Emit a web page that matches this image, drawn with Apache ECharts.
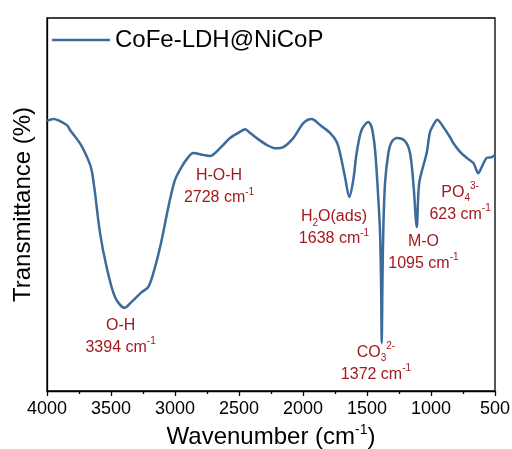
<!DOCTYPE html>
<html>
<head>
<meta charset="utf-8">
<script src="https://cdn.jsdelivr.net/npm/echarts@6/dist/echarts.min.js"></script>
<style>html,body{margin:0;padding:0;background:#fff;}#c{width:512px;height:449px;}</style>
</head>
<body>
<div id="c"></div>
<script>
// Wavenumber (cm-1) and transmittance (arbitrary %)
var wavenumbers = [4000,3950,3846,3820,3735,3677,3651,3625,3586,3534,3469,3394,3339,3260,3208,3156,3104,3052,3000,2948,2896,2857,2779,2728,2648,2570,2466,2453,2420,2362,2284,2219,2154,2076,1997,1932,1867,1789,1737,1711,1672,1638,1607,1581,1542,1490,1464,1437,1411,1398,1390,1385,1379,1372,1359,1333,1307,1268,1203,1164,1138,1111,1092,1034,1008,982,951,904,852,826,773,721,669,630,603,564,525,500];
var transmittance = [72.4,72.9,71.3,70.0,66.0,61.9,59.2,53.1,42.4,33.2,25.2,22.3,23.9,26.5,27.9,33.2,40.5,49.3,56.6,60.1,62.7,63.8,63.3,63.0,65.1,67.8,70.0,70.2,69.4,67.8,66.0,65.1,65.4,67.8,71.8,72.9,71.3,69.2,66.8,63.8,57.4,52.0,56.6,63.8,70.0,72.1,70.8,64.6,51.2,42.4,29.0,12.9,29.8,44.0,55.8,63.8,66.8,67.8,67.0,63.8,55.8,44.0,55.8,63.8,69.4,71.3,72.7,70.8,68.1,66.5,64.1,62.5,61.1,58.4,60.1,62.5,62.7,63.3];
var xTickValues = [4000,3500,3000,2500,2000,1500,1000,500];
var seriesName = 'CoFe-LDH@NiCoP';
// Peak annotations: label lines, wavenumber position and value position
var annoText = [
  '{a|O-H}\n{a|3394 cm}{sup|-1}',
  '{a|H-O-H}\n{a|2728 cm}{sup|-1}',
  '{a|H}{sub|2}{a|O(ads)}\n{a|1638 cm}{sup|-1}',
  '{a|CO}{sub|3}{sup|2-}\n{a|1372 cm}{sup|-1}',
  '{a|M-O}\n{a|1095 cm}{sup|-1}',
  '{a|PO}{sub|4}{sup|3-}\n{a|623 cm}{sup|-1}'
];
var annoX = [3425, 2656, 1758, 1430, 1059, 773];
var annoY = [14.6, 54.7, 43.7, 7.4, 37.1, 50.3];

var data = wavenumbers.map(function(w,i){return [w, transmittance[i]];});
var FONT = 'Arial, "Liberation Sans", sans-serif';
var RED = '#a3191e';
var BLUE = '#3b6b9b';
var richAnno = {
  a: {fontSize: 16, color: RED, fontFamily: FONT, lineHeight: 22},
  sup: {fontSize: 10, color: RED, fontFamily: FONT, verticalAlign: 'top', lineHeight: 22},
  sub: {fontSize: 10, color: RED, fontFamily: FONT, verticalAlign: 'bottom', lineHeight: 22}
};
var chart = echarts.init(document.getElementById('c'), null, {renderer: 'canvas'});
chart.setOption({
  animation: false,
  backgroundColor: '#fff',
  grid: {left: 47, right: 17, top: 18, bottom: 58, show: true, borderColor: '#000', borderWidth: 1.3,
    backgroundColor: 'transparent', containLabel: false, outerBoundsMode: 'none'},
  legend: {
    data: [{name: seriesName, icon: 'rect'}], left: 47, top: 23, itemWidth: 58, itemHeight: 2.5,
    itemStyle: {color: BLUE},
    textStyle: {fontSize: 24, color: '#000', fontFamily: FONT}
  },
  xAxis: {
    type: 'value', inverse: true, min: 500, max: 4000, interval: 500,
    name: '{a|Wavenumber (cm}{sup|-1}{a|)}', nameLocation: 'middle', nameGap: 32,
    nameTextStyle: {rich: {
      a: {fontSize: 24, color: '#000', fontFamily: FONT, lineHeight: 28},
      sup: {fontSize: 14, color: '#000', fontFamily: FONT, verticalAlign: 'top', lineHeight: 28}
    }},
    axisLine: {show: true, lineStyle: {color: '#000', width: 1.3}},
    axisTick: {show: true, inside: false, length: 5, lineStyle: {color: '#000', width: 1.3}},
    minorTick: {show: true, splitNumber: 2, length: 3, lineStyle: {color: '#000', width: 1.3}},
    splitLine: {show: false},
    axisLabel: {fontSize: 18, color: '#000', fontFamily: FONT, margin: 9,
      formatter: function(v){return String(v);}}
  },
  yAxis: {
    type: 'value', min: 0, max: 100,
    name: 'Transmittance (%)', nameLocation: 'middle', nameGap: 12,
    nameTextStyle: {fontSize: 24, color: '#000', fontFamily: FONT},
    axisLine: {show: true, lineStyle: {color: '#000', width: 1.3}},
    axisTick: {show: false}, axisLabel: {show: false}, splitLine: {show: false}
  },
  series: [{
    name: seriesName, type: 'line', data: data, showSymbol: false, symbol: 'none',
    smooth: 0.3,
    lineStyle: {color: BLUE, width: 2.5}, itemStyle: {color: BLUE},
    markPoint: {
      symbol: 'circle', symbolSize: 0, silent: true,
      label: {show: true, position: 'inside', rich: richAnno, formatter: function(p){return annoText[p.dataIndex];}},
      data: annoX.map(function(x,i){return {coord: [x, annoY[i]], value: i};})
    }
  }]
});
</script>
</body>
</html>
